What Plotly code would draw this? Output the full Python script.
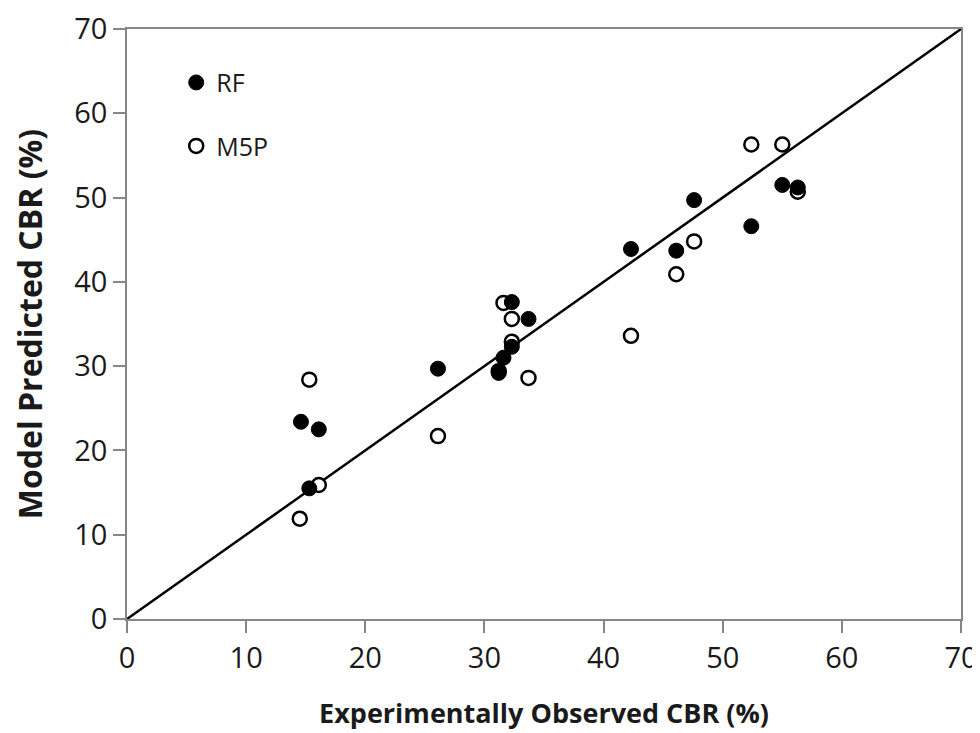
import plotly.graph_objects as go

rf_x = [14.6, 16.1, 15.3, 26.1, 31.2, 31.6, 32.3, 32.3, 33.7, 42.3, 46.1, 47.6, 52.4, 55.0, 56.3]
rf_y = [23.4, 22.5, 15.5, 29.7, 29.2, 31.0, 32.3, 37.6, 35.6, 43.9, 43.7, 49.7, 46.6, 51.5, 51.2]

m5p_x = [14.5, 16.1, 15.3, 26.1, 31.2, 31.6, 32.3, 32.3, 33.7, 42.3, 46.1, 47.6, 52.4, 55.0, 56.3]
m5p_y = [11.9, 15.9, 28.4, 21.7, 29.4, 37.5, 35.6, 32.9, 28.6, 33.6, 40.9, 44.8, 56.3, 56.3, 50.7]

line_xy = [0, 70]
ticks = [0, 10, 20, 30, 40, 50, 60, 70]

FONT = "Open Sans, Liberation Sans, sans-serif"
AX = "#868686"
TXT = "#1a1a1a"

fig = go.Figure()
fig.add_trace(go.Scatter(
    x=line_xy, y=line_xy, mode="lines", line=dict(color="black", width=2.5),
    showlegend=False, hoverinfo="skip"))
fig.add_trace(go.Scatter(
    x=m5p_x, y=m5p_y, mode="markers", name="M5P", legendrank=2, legendgroup="m5p",
    marker=dict(symbol="circle", size=14, color="white",
                line=dict(color="black", width=2.5))))
fig.add_trace(go.Scatter(
    x=rf_x, y=rf_y, mode="markers", name="RF", legendrank=1, legendgroup="rf",
    marker=dict(symbol="circle", size=15, color="black",
                line=dict(color="black", width=1))))

axis_common = dict(
    range=[0, 70], tickvals=ticks, showgrid=False, zeroline=False,
    showline=True, linecolor=AX, linewidth=1.5, mirror=True,
    ticks="outside", ticklen=12, tickcolor=AX, tickwidth=1.5,
    tickfont=dict(family=FONT, size=29, color=TXT),
)

fig.update_layout(
    width=980, height=733,
    paper_bgcolor="white", plot_bgcolor="white",
    margin=dict(l=119, r=27, t=21, b=122),
    xaxis=dict(**axis_common, automargin="bottom",
               title=dict(text="<b>Experimentally Observed CBR (%)</b>",
                          font=dict(family=FONT, size=27, color=TXT),
                          standoff=30)),
    yaxis=dict(**axis_common, automargin="left",
               title=dict(text="<b>Model Predicted CBR (%)</b>",
                          font=dict(family=FONT, size=32, color=TXT),
                          standoff=30)),
    legend=dict(x=0.059, y=0.948, xanchor="left", yanchor="top",
                traceorder="grouped", tracegroupgap=28,
                font=dict(family=FONT, size=25, color=TXT),
                bgcolor="rgba(0,0,0,0)", itemwidth=30),
    showlegend=True,
)

fig.write_html("out.html")
